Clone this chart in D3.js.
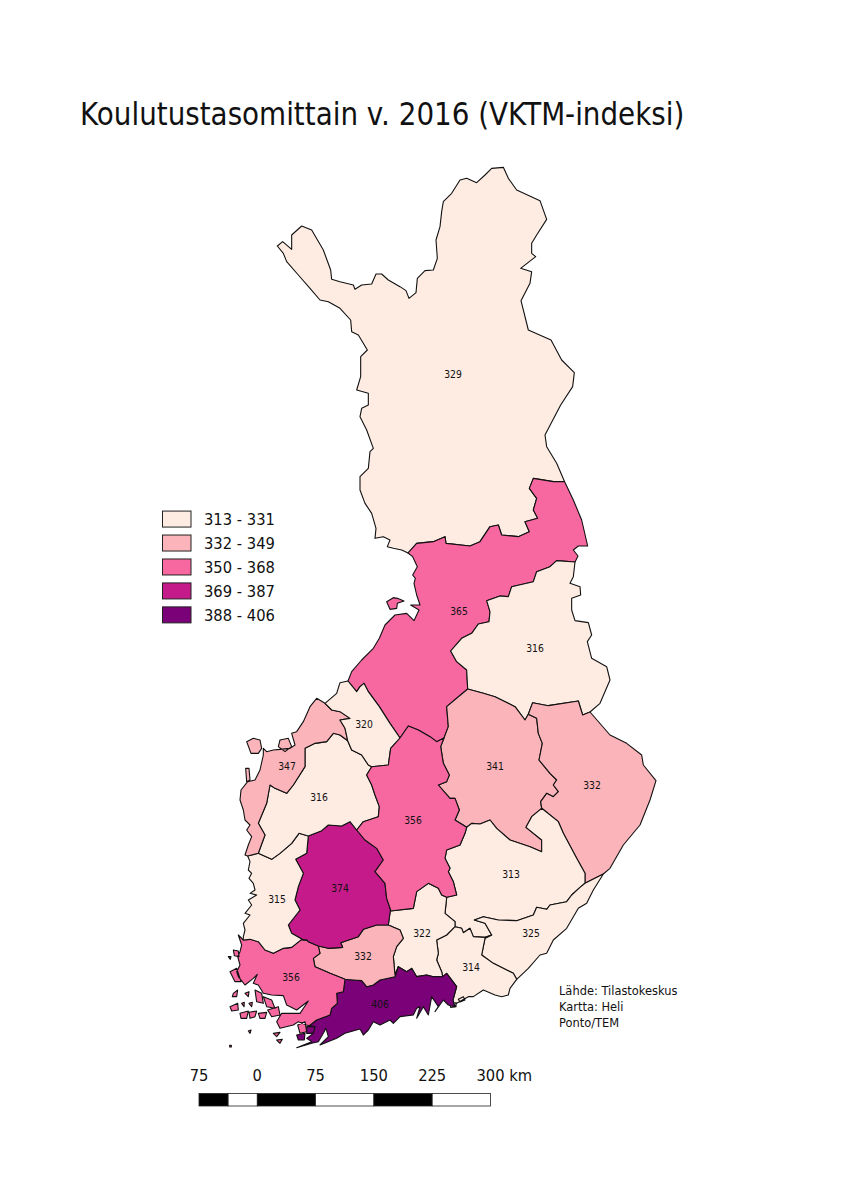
<!DOCTYPE html>
<html><head><meta charset="utf-8">
<script src="https://cdn.jsdelivr.net/npm/d3@7"></script>
<style>html,body{margin:0;background:#fff}svg{display:block}text{font-family:"DejaVu Sans",sans-serif;fill:#111}</style>
</head><body><svg id="m" width="849" height="1200"></svg>
<script>
const title = "Koulutustasomittain v. 2016 (VKTM-indeksi)";
const regionValues = {lappi:329,pohjois:365,kainuu:316,savo:341,karjala:332,etelasavo:313,kymi:325,karjala2:314,paijat:322,uusimaa:406,kanta:332,varsinais:356,pirkanmaa:374,satakunta:315,etela:316,pohjanmaa:347,keski:320,keskisuomi:356};
const classLabels = ["313 - 331","332 - 349","350 - 368","369 - 387","388 - 406"];
const classBreaks = [332,350,369,388];
const scaleStops = [-75,-37.5,0,75,150,225,300];
const scaleTicks = [-75,0,75,150,225,300];
const creditLines = ["Lähde: Tilastokeskus","Kartta: Heli","Ponto/TEM"];

// digitised outline nodes and shared borders (sheet units)
const N={A:[408,553],B:[564.5,481.5],C:[575,562],D:[467.7,689],E:[444,738],F:[400,738],G:[348,681],H:[590,712],J:[528.3,714.3],K:[541.7,808.3],L:[466.7,827.3],M:[585,883.3],Nn:[603.3,874],O:[491.7,935],P:[455,926.7],Q:[446.7,897.3],R:[390.3,911],S:[442.7,976.7],T:[398.3,966.7],U:[345,979.3],V:[388.3,925],W:[318.3,946],X:[306.7,940],Y:[243.3,940],Z:[309.3,1025.7],AA:[453,1000],AB:[516.7,979.3],AC:[325,703.3],AD:[347.7,740.7],AE:[371.7,766.7],AF:[356.7,830],AG:[308.3,836],AH:[258.3,853.3],AI:[247.7,856]};
const crops={a:[270,160],b:[340,470],c:[225,670],d:[220,860],e:[430,800],f:[225,925],g:[300,975],h:[235,730]};
const raw={
lapWest:["A","B","a",[[395,1170],[370,1165],[352,1160],[360,1140],[340,1130],[315,1135],[318,1105],[305,1060],[285,1030],[270,990],[270,950],[295,925],[300,875],[310,865],[290,810],[270,770],[275,745],[295,735],[295,700],[260,690],[272,650],[272,590],[292,570],[265,525],[245,515],[242,480],[210,445],[175,425],[150,420],[120,385],[85,345],[50,305],[40,280],[22,258],[38,245],[65,268],[65,225],[95,198],[125,210],[160,270],[182,330],[185,358],[210,365],[250,375],[255,388],[275,375],[305,372],[318,342],[335,342],[355,360],[390,380],[408,392],[417,415],[438,398],[442,355],[465,332],[490,330],[502,295],[498,240],[510,200],[515,155],[520,125],[545,100],[570,60],[590,55],[620,68],[645,45],[665,25],[700,22],[715,55],[740,90],[810,122],[830,178],[800,225],[785,250],[785,280],[797,290],[752,325],[785,335],[780,370],[753,422],[775,510],[843,540],[875,600],[913,638],[908,680],[872,735],[825,825],[830,860],[860,910]]],
lap365:["B","A","a",[[850,965],[790,955],[778,985],[800,1015],[790,1050],[803,1075],[765,1085],[778,1115],[745,1130],[695,1125],[685,1095],[660,1100],[630,1145],[600,1158],[528,1150],[525,1130],[490,1145],[440,1150]]],
e365:["B","C","b",[[700,90],[725,150],[743,228],[715,228],[700,240],[714,258]]],
b365K:["C","D","b",[[650,272],[630,290],[590,305],[580,335],[515,350],[505,380],[480,378],[440,392],[450,425],[447,455],[415,462],[395,490],[365,505],[332,543],[350,575],[380,600]]],
b365_341:["D","E","b",[[320,710],[325,770]]],
b365_356:["E","F","b",[[290,815],[270,800],[235,780],[205,768]]],
b365_320:["F","G","b",[[150,760],[118,710],[85,665],[72,640],[60,650],[50,665]]],
coast365:["G","A","b",[[35,605],[65,570],[100,535],[118,505],[135,465],[165,435],[200,430],[222,452],[237,420],[212,405],[240,405],[230,375],[222,340],[226,325],[218,315],[232,290],[218,260]]],
kEast:["C","H","b",[[700,320],[690,340],[720,350],[722,375],[695,385],[695,420],[705,452],[745,458],[755,495],[742,515],[755,565],[800,590],[810,630],[780,700]]],
k332:["H","J","b",[[728,735],[715,693],[625,707],[578,698]]],
k341:["J","D","b",[[555,750],[525,710],[465,680],[430,670]]],
b341_332:["J","K","b",[[590,745],[595,790],[607,820],[597,870],[630,910],[650,930],[640,945],[655,965],[640,980],[620,970],[602,995]]],
b341_313:["K","L","b",[[575,1040],[558,1072],[605,1110],[605,1145],[570,1130],[510,1110],[470,1075],[450,1050],[420,1062],[395,1060]]],
b341_356:["E","L","b",[[302,830],[310,880],[328,915],[320,935],[295,945],[330,985],[345,985],[358,1020],[345,1050]]],
e332:["H","Nn","b",[[810,795],[860,820],[905,855],[910,885],[948,932],[930,990],[900,1065],[850,1125],[810,1195]]],
m_n:["M","Nn","e",[]],
k_m:["K","M","e",[[385,65],[400,100],[440,175],[465,220]]],
b313_325:["M","O","e",[[450,262],[425,285],[410,305],[360,315],[350,328],[320,322],[310,345],[260,362],[205,360],[160,350],[133,360],[165,370]]],
b313_314:["O","P","e",[[165,412],[130,410],[120,385],[100,398],[95,385]]],
b313_322:["Q","P","e",[[45,340],[75,365]]],
b356_313:["L","Q","e",[[105,100],[90,135],[50,150],[45,175],[60,205],[55,215],[70,245],[80,285]]],
c325:["AB","Nn","e",[[295,505],[330,465],[350,460],[370,420],[410,385],[445,325],[470,310],[490,270],[515,230]]],
b314_325:["O","AB","e",[[165,415],[160,440],[155,465],[190,490],[230,510],[250,520]]],
c314:["AB","AA","e",[[240,565],[235,585],[215,590],[195,585],[160,570],[130,590],[115,590],[80,610],[75,620]]],
b406_314:["S","AA","d",[[680,340],[710,380]]],
b322_314:["P","S","d",[[680,225],[650,240],[655,280],[650,300],[665,335]]],
b322_406:["T","S","d",[[560,335],[575,325],[590,350],[620,345],[640,350]]],
b322_332:["T","V","d",[[525,345],[520,290],[530,260],[550,235],[540,210]]],
b374_322:["R","V","d",[]],
b356_322:["Q","R","d",[[665,105],[655,85],[625,70],[590,95],[580,145]]],
b332_406:["U","T","d",[[400,360],[425,362],[440,380],[460,375],[480,360],[525,350]]],
c406:["Z","AA","g",[[45,155],[40,175],[20,190],[35,200],[-10,218],[35,205],[55,200],[70,175],[78,160],[85,185],[60,210],[110,190],[135,175],[180,162],[190,180],[205,165],[220,140],[240,150],[270,135],[280,145],[300,125],[340,120],[350,100],[360,95],[350,130],[370,95],[385,120],[395,65],[415,95],[405,110],[430,75],[445,90],[463,95]]],
b356_406:["U","Z","d",[[370,395],[350,400],[352,430],[335,445],[330,465],[290,480]]],
b374_332:["W","V","d",[[325,265],[368,262],[362,248],[415,230],[430,208],[470,195]]],
b356_332:["W","U","d",[[300,280],[280,295],[285,320],[330,340]]],
b374_356:["W","X","d",[[265,245]]],
b315_356:["X","Y","d",[[245,238],[215,262],[190,265],[160,280],[135,270],[115,245],[90,238]]],
c356:["Y","Z","f",[[40,30],[50,60],[45,80],[38,95],[45,120],[35,140],[40,155],[60,180],[85,160],[97,148],[85,175],[100,180],[115,205],[140,210],[175,212],[185,240],[215,255],[250,228],[225,265],[170,265],[155,290],[165,310],[205,300],[220,290],[245,300]]],
b356_374:["AF","R","c",[[420,510],[455,535],[475,570],[450,605],[480,640],[485,685],[497,720]]],
b315_374:["AG","X","c",[[245,550],[212,568],[235,610],[220,650],[210,690],[225,720],[190,765],[200,790],[235,810]]],
b316_374:["AF","AG","c",[[375,455],[350,468],[310,465],[290,482]]],
b316_315:["AG","AH","c",[[222,490],[200,520],[165,550],[140,568]]],
c315:["AI","Y","h",[[45,395],[40,420],[50,430],[42,445],[55,460],[60,480],[45,490],[65,495],[40,510],[50,525],[30,550],[45,555],[25,580],[30,600],[25,620]]],
b347_315:["AH","AI","c",[]],
b316_347:["AH","AD","c",[[120,495],[100,460],[125,400],[135,345],[150,355],[185,370],[205,345],[240,290],[240,235],[270,220],[305,215],[325,190],[345,195]]],
b320_316:["AD","AE","c",[[380,240],[410,255],[430,285]]],
b320_347:["AC","AD","c",[[320,120],[345,125],[375,145],[345,150],[360,175]]],
c347:["AI","AC","c",[[60,555],[70,525],[80,500],[65,480],[75,465],[60,450],[55,420],[45,390],[48,360],[68,335],[90,330],[105,300],[115,255],[115,235],[125,245],[145,240],[165,238],[195,235],[210,225],[200,190],[215,185],[235,155],[255,110],[275,85]]],
c320:["G","AC","c",[[345,38],[335,70]]],
b356_316:["AE","AF","c",[[425,315],[440,345],[450,375],[463,410],[460,440],[415,455]]],
b320_356:["AE","F","c",[[490,285],[497,235]]]
};
const rings={
lappi:["lapWest","lap365"],
pohjois:["-lap365","e365","b365K","b365_341","b365_356","b365_320","coast365"],
kainuu:["kEast","k332","k341","-b365K"],
savo:["-k341","b341_332","b341_313","-b341_356","-b365_341"],
karjala:["e332","-m_n","-k_m","-b341_332","-k332"],
etelasavo:["k_m","b313_325","b313_314","-b313_322","-b356_313","-b341_313"],
kymi:["m_n","-c325","-b314_325","-b313_325"],
karjala2:["-b313_314","b314_325","c314","-b406_314","-b322_314"],
paijat:["b313_322","b322_314","-b322_406","b322_332","-b374_322","-b356_322"],
uusimaa:["b332_406","b322_406","b406_314","-c406","-b356_406"],
kanta:["b374_332","-b322_332","-b332_406","-b356_332"],
varsinais:["b315_356","c356","-b356_406","-b356_332","b374_356"],
pirkanmaa:["b356_374","b374_322","-b374_332","b374_356","-b315_374","-b316_374"],
satakunta:["b315_374","b315_356","-c315","-b347_315","-b316_315"],
etela:["b356_316","b316_374","b316_315","b316_347","b320_316"],
pohjanmaa:["b320_347","-b316_347","b347_315","c347"],
keski:["c320","b320_347","b320_316","b320_356","b365_320"],
keskisuomi:["b365_356","-b320_356","b356_316","b356_374","-b356_322","-b356_313","-b341_356"]
};
const islands={
pohjois:[["b",[[140,395],[160,383],[172,385],[192,393],[172,400],[170,415],[150,418]]]],
pohjanmaa:[["c",[[65,215],[85,205],[105,210],[110,235],[100,250],[78,250]]],["c",[[165,210],[190,205],[200,230],[180,245],[160,230]]],["c",[[62,295],[72,295],[75,330],[65,335]]]],
varsinais:[["f",[[15,140],[35,130],[48,170],[30,170]]],["f",[[25,205],[38,195],[35,215],[22,215]]],["f",[[15,245],[38,235],[40,255],[20,258]]],["f",[[45,265],[70,258],[65,280],[48,280]]],["f",[[72,262],[95,258],[90,275],[75,280]]],["f",[[100,265],[125,262],[120,280],[105,280]]],["f",[[60,205],[72,200],[70,215]]],["f",[[90,195],[110,205],[115,235],[95,230]]],["f",[[115,215],[140,225],[150,250],[125,245]]],["f",[[128,255],[160,245],[165,270],[140,275]]],["f",[[70,318],[78,315],[75,325]]],["f",[[145,325],[165,322],[155,335]]],["f",[[155,345],[172,343],[165,355]]],["f",[[10,95],[18,95],[16,103]]],["f",[[50,235],[58,232],[57,245]]],["f",[[72,235],[82,232],[80,245]]],["f",[[25,75],[40,78],[42,95],[28,92]]],["f",[[14,361],[19,361],[19,366],[14,366]]],["f",[[218,300],[240,290],[245,320],[225,325]]]],
uusimaa:[["f",[[215,330],[240,325],[238,345],[220,345]]],["f",[[245,305],[270,305],[265,325],[245,325]]]],
karjala2:[["e",[[85,598],[100,590],[105,600],[90,606]]],["e",[[60,612],[78,608],[78,620],[62,622]]]]
};
const labelAnchors={lappi:[453,374],pohjois:[459,611],kainuu:[535,648],savo:[495,766],karjala:[592,785],etelasavo:[511,874],kymi:[531,933],karjala2:[471,967],paijat:[422,933],uusimaa:[380,1004],kanta:[363,956],varsinais:[291,977],pirkanmaa:[340,888],satakunta:[277,899],etela:[319,797],pohjanmaa:[287,766],keski:[364,724],keskisuomi:[413,820]};

const toSheet=(c,p)=>[crops[c][0]+p[0]/3,crops[c][1]+p[1]/3];
const arcs={};
for(const k in raw){const [a,b,c,pts]=raw[k];arcs[k]=[N[a],...pts.map(p=>toSheet(c,p)),N[b]];}
const ringOf=list=>{const out=[];list.forEach(n=>{const rev=n[0]==="-";const pts=arcs[rev?n.slice(1):n];out.push(...(rev?[...pts].reverse():pts));});out.push(out[0]);return out;};
const features=Object.keys(regionValues).map(id=>({type:"Feature",id,properties:{value:regionValues[id]},geometry:{type:"MultiPolygon",coordinates:[[ringOf(rings[id])],...(islands[id]||[]).map(([c,pts])=>{const r=pts.map(p=>toSheet(c,p));r.push(r[0]);return [r];})]}}));

const narrow=(sel,f)=>sel.each(function(){this.setAttribute("textLength",this.getComputedTextLength()*f);this.setAttribute("lengthAdjust","spacingAndGlyphs");});
const color=d3.scaleThreshold().domain(classBreaks).range(d3.schemeRdPu[5]);
const projection=d3.geoIdentity();
const path=d3.geoPath(projection);
const svg=d3.select("#m");
svg.append("text").attr("x",80).attr("y",124.5).attr("font-size",32).text(title).call(narrow,0.868);
svg.append("g").selectAll("path").data(features).join("path").attr("d",path)
  .attr("fill",d=>color(d.properties.value)).attr("stroke","#111").attr("stroke-width",1.1).attr("stroke-linejoin","round");
svg.append("g").selectAll("text").data(features).join("text")
  .attr("transform",d=>`translate(${projection(labelAnchors[d.id])})`).attr("text-anchor","middle").attr("dy","0.35em").attr("font-size",11).text(d=>d.properties.value).call(narrow,0.84);
const legendY=d3.scaleBand().domain(classLabels).range([507,627]).paddingInner(0.33).paddingOuter(0.17);
const lg=svg.append("g").selectAll("g").data(classLabels).join("g").attr("transform",d=>`translate(0,${legendY(d)})`);
lg.append("rect").attr("x",162.5).attr("width",28.5).attr("height",16).attr("fill",(d,i)=>color.range()[i]).attr("stroke","#222").attr("stroke-width",1);
lg.append("text").attr("x",204).attr("y",8).attr("dy","0.36em").attr("font-size",16).text(d=>d).call(narrow,0.92);
const sx=d3.scaleLinear().domain([-75,300]).range([199,490.5]);
svg.append("g").selectAll("rect").data(d3.pairs(scaleStops)).join("rect").attr("x",d=>sx(d[0])).attr("y",1093.5).attr("width",d=>sx(d[1])-sx(d[0])).attr("height",12.5)
  .attr("fill",(d,i)=>i%2?"#fff":"#000").attr("stroke","#222").attr("stroke-width",.8);
svg.append("g").selectAll("text").data(scaleTicks).join("text").attr("x",d=>sx(d)).attr("y",1081).attr("text-anchor",(d,i)=>i===5?"start":"middle").attr("dx",(d,i)=>i===5?-14:0).attr("font-size",16)
  .text((d,i)=>i===5?`${Math.abs(d)} km`:Math.abs(d)).call(narrow,0.92);
svg.append("g").selectAll("text").data(creditLines).join("text").attr("x",559).attr("y",(d,i)=>995+i*16).attr("font-size",12.5).text(d=>d).call(narrow,0.915);
</script></body></html>
